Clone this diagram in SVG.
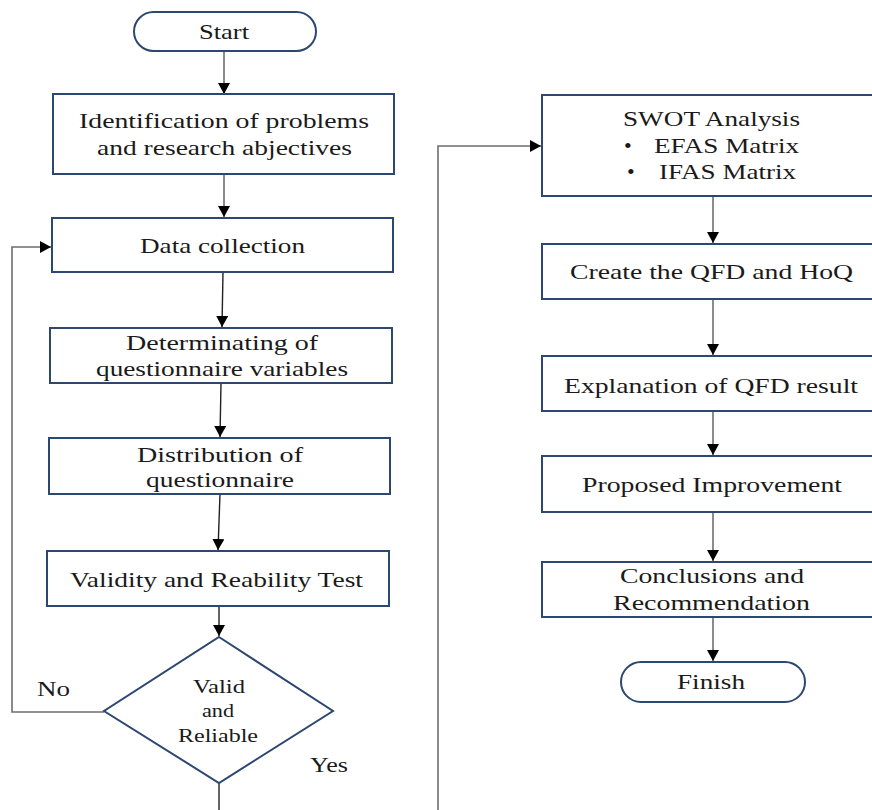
<svg xmlns="http://www.w3.org/2000/svg" width="872" height="810" viewBox="0 0 872 810">
<style>
.node{fill:#fff;stroke:#2c4770;stroke-width:2}
.c{fill:none;stroke:#6e6e6e;stroke-width:1.6}
.cb{fill:none;stroke:#222;stroke-width:1.4}
</style>
<defs>
<marker id="ah" markerUnits="userSpaceOnUse" markerWidth="12" markerHeight="12" refX="11" refY="6" orient="auto">
<path d="M0,0 L11,6 L0,12 z" fill="#000"/>
</marker>
</defs>
<rect width="872" height="810" fill="#fff"/>
<g id="connectors">
<line class="c" x1="224" y1="51" x2="224" y2="94" marker-end="url(#ah)"/>
<line class="c" x1="224" y1="174" x2="224" y2="217" marker-end="url(#ah)"/>
<line class="cb" x1="223" y1="272" x2="222" y2="327" marker-end="url(#ah)"/>
<line class="cb" x1="221" y1="383" x2="220" y2="437" marker-end="url(#ah)"/>
<line class="cb" x1="220" y1="494" x2="218" y2="550" marker-end="url(#ah)"/>
<line class="cb" x1="219" y1="606" x2="219" y2="636" marker-end="url(#ah)"/>
<polyline class="c" points="104,712 12,712 12,247 51,247" marker-end="url(#ah)"/>
<line class="cb" x1="219" y1="783" x2="219" y2="812"/>
<polyline class="c" points="438,812 438,146 541,146" marker-end="url(#ah)"/>
<line class="c" x1="713" y1="196" x2="713" y2="243" marker-end="url(#ah)"/>
<line class="c" x1="713" y1="299" x2="713" y2="355" marker-end="url(#ah)"/>
<line class="c" x1="713" y1="411" x2="713" y2="455" marker-end="url(#ah)"/>
<line class="c" x1="713" y1="512" x2="713" y2="561" marker-end="url(#ah)"/>
<line class="c" x1="713" y1="617" x2="713" y2="661" marker-end="url(#ah)"/>
</g>
<g id="start">
<rect class="node" x="134" y="12" width="182" height="39" rx="19.5"/>
<text font-family="Liberation Serif" font-size="21" fill="#1a1a1a" x="199" y="39" textLength="50" lengthAdjust="spacingAndGlyphs">Start</text>
</g>
<g id="identification">
<rect class="node" x="53" y="94" width="341" height="80"/>
<text font-family="Liberation Serif" font-size="21" fill="#1a1a1a" x="79" y="128" textLength="290" lengthAdjust="spacingAndGlyphs">Identification of problems</text>
<text font-family="Liberation Serif" font-size="21" fill="#1a1a1a" x="97" y="155" textLength="255" lengthAdjust="spacingAndGlyphs">and research abjectives</text>
</g>
<g id="data">
<rect class="node" x="52" y="218" width="341" height="54"/>
<text font-family="Liberation Serif" font-size="21" fill="#1a1a1a" x="140" y="253" textLength="165" lengthAdjust="spacingAndGlyphs">Data collection</text>
</g>
<g id="determinating">
<rect class="node" x="50" y="328" width="342" height="55"/>
<text font-family="Liberation Serif" font-size="21" fill="#1a1a1a" x="126" y="350" textLength="192" lengthAdjust="spacingAndGlyphs">Determinating of</text>
<text font-family="Liberation Serif" font-size="21" fill="#1a1a1a" x="96" y="376" textLength="252" lengthAdjust="spacingAndGlyphs">questionnaire variables</text>
</g>
<g id="distribution">
<rect class="node" x="49" y="438" width="341" height="56"/>
<text font-family="Liberation Serif" font-size="21" fill="#1a1a1a" x="137" y="462" textLength="166" lengthAdjust="spacingAndGlyphs">Distribution of</text>
<text font-family="Liberation Serif" font-size="21" fill="#1a1a1a" x="146" y="487" textLength="148" lengthAdjust="spacingAndGlyphs">questionnaire</text>
</g>
<g id="validity">
<rect class="node" x="47" y="551" width="342" height="55"/>
<text font-family="Liberation Serif" font-size="21" fill="#1a1a1a" x="70" y="587" textLength="293" lengthAdjust="spacingAndGlyphs">Validity and Reability Test</text>
</g>
<g id="decision">
<polygon class="node" points="219,637 333,711 219,783 104,711"/>
<text font-family="Liberation Serif" font-size="19" fill="#1a1a1a" x="193" y="693" textLength="52" lengthAdjust="spacingAndGlyphs">Valid</text>
<text font-family="Liberation Serif" font-size="19" fill="#1a1a1a" x="202" y="717" textLength="32" lengthAdjust="spacingAndGlyphs">and</text>
<text font-family="Liberation Serif" font-size="19" fill="#1a1a1a" x="178" y="742" textLength="80" lengthAdjust="spacingAndGlyphs">Reliable</text>
</g>
<g id="labels">
<text font-family="Liberation Serif" font-size="22" fill="#1a1a1a" x="37" y="696" textLength="33" lengthAdjust="spacingAndGlyphs">No</text>
<text font-family="Liberation Serif" font-size="22" fill="#1a1a1a" x="310" y="772" textLength="38" lengthAdjust="spacingAndGlyphs">Yes</text>
</g>
<g id="swot">
<rect class="node" x="542" y="95" width="340" height="101"/>
<text font-family="Liberation Serif" font-size="22" fill="#1a1a1a" x="623" y="126" textLength="177" lengthAdjust="spacingAndGlyphs">SWOT Analysis</text>
<text font-family="Liberation Serif" font-size="22" fill="#1a1a1a" x="624" y="153">•</text>
<text font-family="Liberation Serif" font-size="22" fill="#1a1a1a" x="654" y="153" textLength="145" lengthAdjust="spacingAndGlyphs">EFAS Matrix</text>
<text font-family="Liberation Serif" font-size="22" fill="#1a1a1a" x="627" y="179">•</text>
<text font-family="Liberation Serif" font-size="22" fill="#1a1a1a" x="659" y="179" textLength="137" lengthAdjust="spacingAndGlyphs">IFAS Matrix</text>
</g>
<g id="qfd">
<rect class="node" x="542" y="244" width="340" height="55"/>
<text font-family="Liberation Serif" font-size="22" fill="#1a1a1a" x="570" y="279" textLength="283" lengthAdjust="spacingAndGlyphs">Create the QFD and HoQ</text>
</g>
<g id="explanation">
<rect class="node" x="542" y="356" width="340" height="55"/>
<text font-family="Liberation Serif" font-size="22" fill="#1a1a1a" x="564" y="393" textLength="294" lengthAdjust="spacingAndGlyphs">Explanation of QFD result</text>
</g>
<g id="proposed">
<rect class="node" x="542" y="456" width="340" height="56"/>
<text font-family="Liberation Serif" font-size="22" fill="#1a1a1a" x="582" y="492" textLength="260" lengthAdjust="spacingAndGlyphs">Proposed Improvement</text>
</g>
<g id="conclusions">
<rect class="node" x="542" y="562" width="340" height="55"/>
<text font-family="Liberation Serif" font-size="22" fill="#1a1a1a" x="620" y="583" textLength="184" lengthAdjust="spacingAndGlyphs">Conclusions and</text>
<text font-family="Liberation Serif" font-size="22" fill="#1a1a1a" x="613" y="610" textLength="197" lengthAdjust="spacingAndGlyphs">Recommendation</text>
</g>
<g id="finish">
<rect class="node" x="621" y="662" width="184" height="40" rx="20"/>
<text font-family="Liberation Serif" font-size="22" fill="#1a1a1a" x="677" y="689" textLength="68" lengthAdjust="spacingAndGlyphs">Finish</text>
</g>
</svg>
